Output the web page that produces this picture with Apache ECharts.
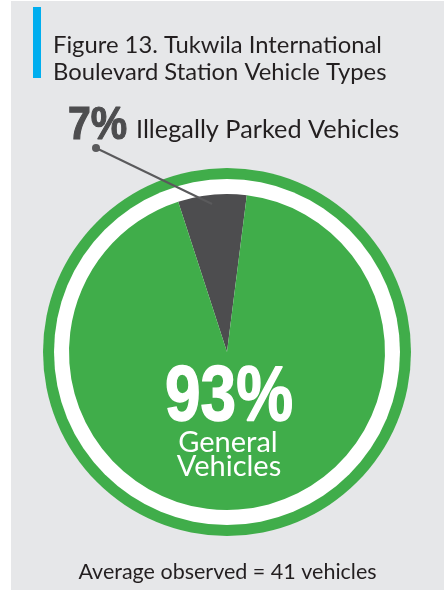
<!DOCTYPE html>
<html>
<head>
<meta charset="utf-8">
<script src="https://cdn.jsdelivr.net/npm/echarts@6/dist/echarts.min.js"></script>
<style>
  html, body { margin: 0; padding: 0; background: #ffffff; }
  #chart { width: 445px; height: 590px; }
</style>
</head>
<body>
<div id="chart"></div>
<script>
// Vehicle types observed at the station
const categories = ['Illegally Parked Vehicles', 'General Vehicles'];
const shares = [7, 93];
const averageObserved = 41;
const titleLines = ['Figure 13. Tukwila International', 'Boulevard Station Vehicle Types'];

const GREEN = '#40ad4a';
const DARK = '#4d4d4f';
const TEXT = '#231f20';
const CENTER = [227, 352];
const BODY_FONT = 'Lato';
const HEAVY_FONT = '"Liberation Sans", Arial, sans-serif';

const chart = echarts.init(document.getElementById('chart'), null, { renderer: 'canvas' });

const sliceColors = [DARK, GREEN];

// plain text helper for graphic elements
function txt(x, y, text, size, color, opts) {
  opts = opts || {};
  return {
    type: 'text', z: 20, x: x, y: y, scaleX: opts.scaleX || 1, silent: true,
    style: {
      text: text,
      fontFamily: opts.family || BODY_FONT,
      fontWeight: opts.weight || 'normal',
      fontSize: size,
      fill: color,
      align: opts.align || 'left',
      verticalAlign: 'middle',
      stroke: opts.stroke || null,
      lineWidth: opts.strokeWidth || 0
    }
  };
}

chart.setOption({
  backgroundColor: '#ffffff',
  animation: false,
  graphic: [
    { type: 'rect', z: -10, shape: { x: 11, y: 1, width: 433, height: 589 }, style: { fill: '#e6e7e9' } },
    { type: 'rect', shape: { x: 33, y: 7, width: 8, height: 71 }, style: { fill: '#00aeef' } },
    txt(53, 45, titleLines[0], 23.8, TEXT),
    txt(53, 72, titleLines[1], 23.8, TEXT),
    // leader from the small slice to its label
    { type: 'line', z: 10, shape: { x1: 96, y1: 148, x2: 212, y2: 204 }, style: { stroke: '#5a5a5c', lineWidth: 2 } },
    { type: 'circle', z: 10, shape: { cx: 96, cy: 148, r: 4 }, style: { fill: '#5a5a5c' } },
    txt(68, 126, shares[0] + '%', 46, DARK, { family: HEAVY_FONT, weight: 'bold', scaleX: 0.89, stroke: DARK, strokeWidth: 1.2 }),
    txt(136, 130, categories[0], 25.3, TEXT),
    txt(229, 399, shares[1] + '%', 77, '#ffffff', { family: HEAVY_FONT, weight: 'bold', align: 'center', scaleX: 0.83, stroke: '#ffffff', strokeWidth: 1.5 }),
    txt(228, 443, categories[1].split(' ')[0], 29, '#ffffff', { align: 'center' }),
    txt(229, 467, categories[1].split(' ')[1], 29, '#ffffff', { align: 'center' }),
    txt(227.5, 572, 'Average observed = ' + averageObserved + ' vehicles', 21.5, TEXT, { align: 'center' })
  ],
  series: [
    {
      // outer green ring
      type: 'pie', silent: true, center: CENTER, radius: [0, 184],
      label: { show: false }, labelLine: { show: false },
      itemStyle: { color: GREEN }, data: [{ value: 1 }], z: 1
    },
    {
      // white separating ring
      type: 'pie', silent: true, center: CENTER, radius: [0, 173],
      label: { show: false }, labelLine: { show: false },
      itemStyle: { color: '#ffffff' }, data: [{ value: 1 }], z: 2
    },
    {
      type: 'pie',
      center: CENTER,
      radius: [0, 158],
      startAngle: 108,
      clockwise: true,
      z: 3,
      itemStyle: { borderWidth: 0 },
      label: { show: false },
      labelLine: { show: false },
      data: categories.map((name, i) => ({
        name: name,
        value: shares[i],
        itemStyle: { color: sliceColors[i] }
      }))
    }
  ]
});
</script>
</body>
</html>
